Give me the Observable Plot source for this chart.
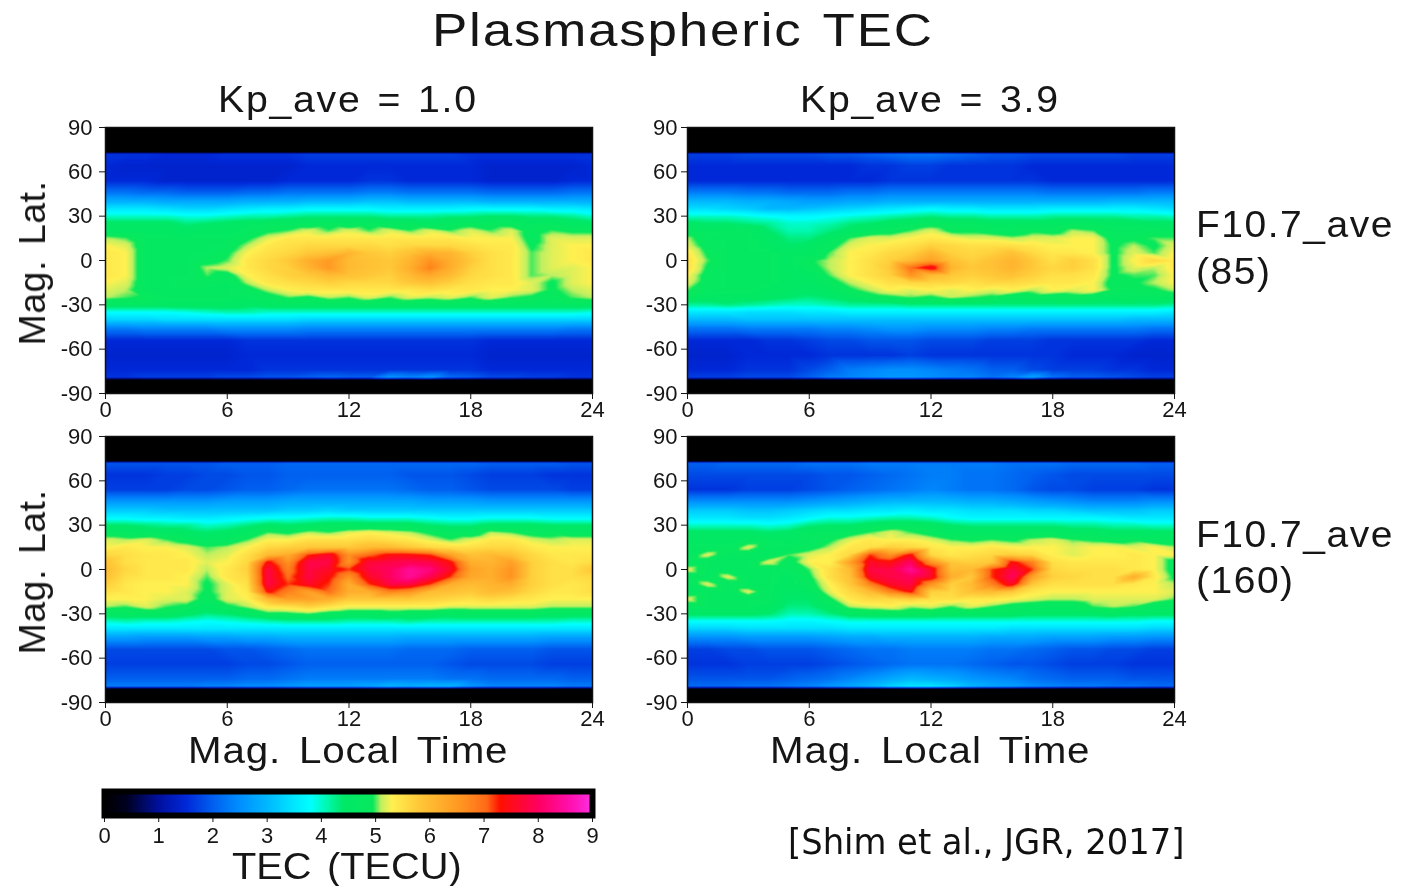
<!DOCTYPE html>
<html><head><meta charset="utf-8">
<script src="https://cdn.jsdelivr.net/npm/d3@7"></script>
<script src="https://cdn.jsdelivr.net/npm/@observablehq/plot@0.6"></script>
<style>
html,body{margin:0;padding:0;background:#fff;overflow:hidden}
#page{position:relative;width:1401px;height:886px;overflow:hidden}
#page svg{position:absolute;background:transparent;max-width:none;filter:blur(.55px)}
.t{position:absolute;white-space:pre;font-family:"Liberation Sans",sans-serif;color:#161616;line-height:1;filter:blur(.4px);transform-origin:0 0}
</style></head><body><div id="page"></div>
<script>
const xTicks=[0,6,12,18,24], yTicks=[-90,-60,-30,0,30,60,90], barTicks=[0,1,2,3,4,5,6,7,8,9];
// latitude rows and local-time columns (TEC values below are in tenths of a TECU)
const latRows=[72,64,54,46,40,35,30,25,20,15,10,5,0,-5,-10,-15,-20,-25,-30,-35,-40,-46,-54,-64,-74,-79];
const mltCols=[0,1,2,3,4,5,6,7,8,9,10,11,12,13,14,15,16,17,18,19,20,21,22,23,24];
const blackCapLat=[90,73.5,-81,-90];

const kp10f85=[
[16,16,16,15,15,15,16,16,16,16,17,17,17,17,17,17,17,17,16,16,16,16,16,16,16],
[15,14,14,14,14,14,14,14,14,14,15,15,15,15,15,15,15,15,15,14,14,14,14,14,15],
[15,15,15,14,14,14,14,14,14,15,15,15,15,16,16,15,15,15,15,14,14,14,14,15,15],
[22,22,21,21,20,20,20,21,21,22,22,22,22,23,23,22,22,22,22,21,21,21,21,22,22],
[29,29,29,28,28,28,28,29,29,29,30,30,30,31,31,30,30,30,30,29,29,29,29,29,29],
[35,35,35,34,33,33,34,35,36,36,37,37,37,37,36,36,36,36,37,37,37,37,36,36,35],
[40,40,40,40,39,39,40,41,41,42,43,43,43,43,42,42,42,43,43,44,44,43,43,42,40],
[45,45,45,45,43,44,45,46,47,47,47,48,47,48,47,47,46,47,48,48,48,47,47,46,45],
[46,46,46,46,45,46,46,47,49,50,52,50,52,50,52,50,52,50,52,50,52,48,50,49,49],
[51,50,47,47,47,47,47,49,52,54,54,54,54,54,54,54,54,54,53,53,53,48,52,52,52],
[53,52,47,47,47,47,48,51,54,55,56,56,56,56,55,56,56,56,55,54,54,49,52,53,53],
[54,53,47,47,47,47,49,53,55,56,58,59,61,58,57,59,62,61,57,55,54,50,52,53,54],
[54,53,47,47,47,48,50,54,56,58,62,65,60,59,58,61,66,62,58,55,54,50,52,53,54],
[54,53,47,47,47,51,52,54,56,57,61,65,60,59,58,62,68,62,57,55,54,50,52,52,53],
[54,53,47,47,47,50,48,53,55,57,58,60,59,58,57,60,63,60,56,55,54,50,51,52,53],
[53,52,47,47,48,48,47,51,54,55,56,57,56,56,56,58,59,57,55,54,54,52,49,52,53],
[52,51,47,47,47,47,47,48,51,53,54,54,54,54,54,54,55,54,54,53,53,52,49,51,52],
[51,50,49,47,47,47,47,47,48,50,49,51,50,52,50,52,51,52,50,52,50,49,48,50,51],
[46,46,46,46,46,46,46,45,46,46,46,46,46,46,46,46,46,46,46,46,46,46,46,46,46],
[38,38,38,38,39,40,41,41,40,40,40,40,40,40,40,40,40,40,40,40,40,40,40,40,39],
[33,33,33,34,34,34,34,34,34,34,33,33,33,33,33,33,33,33,33,33,33,33,33,33,33],
[23,23,24,24,24,24,25,25,25,25,24,24,24,24,24,24,24,24,24,24,24,24,24,23,23],
[15,15,15,15,15,15,15,16,16,16,16,16,16,16,16,16,16,16,16,15,15,15,15,15,15],
[14,14,14,14,14,14,14,15,15,15,15,15,15,15,15,15,15,15,15,14,14,14,14,14,14],
[15,15,15,15,15,15,15,15,16,16,16,16,16,16,16,16,16,16,16,15,15,15,15,15,15],
[16,16,17,17,17,17,18,18,19,19,20,21,20,20,26,24,26,21,20,18,18,17,17,16,16]];

const kp39f85=[
[17,17,17,18,18,18,18,19,19,20,21,22,22,21,20,19,19,18,18,18,18,18,17,17,17],
[15,15,15,15,15,15,15,15,15,16,16,17,17,16,16,16,16,15,15,15,15,15,15,15,15],
[15,15,15,15,15,15,15,15,15,15,16,16,16,16,16,16,16,16,15,15,15,15,15,15,15],
[23,23,23,22,22,21,21,21,22,22,23,23,23,23,23,23,23,23,22,22,22,22,22,23,23],
[30,30,30,29,29,28,27,27,28,28,29,29,29,29,29,29,29,29,29,29,29,30,30,30,30],
[34,34,33,32,30,30,31,32,33,34,35,36,37,36,36,35,35,35,36,36,36,36,36,35,34],
[40,40,40,39,38,37,37,38,39,40,41,42,43,42,42,41,41,41,42,42,42,42,41,41,40],
[45,44,44,43,42,40,40,41,43,44,46,47,48,47,47,46,46,46,46,47,47,46,46,45,45],
[47,46,47,47,44,41,41,43,45,47,48,50,52,49,49,48,47,49,48,51,50,47,47,48,47],
[51,47,47,47,46,43,43,46,50,52,52,53,54,53,52,52,51,52,52,53,53,48,49,50,50],
[52,48,47,47,46,44,45,48,52,53,54,55,57,56,55,55,55,54,53,53,53,49,51,49,52],
[54,49,47,47,47,46,46,50,53,54,56,57,61,57,56,57,59,56,54,54,53,49,52,50,53],
[55,50,47,47,47,46,49,51,53,55,57,60,64,59,57,59,61,58,55,57,55,49,53,56,54],
[55,49,47,47,47,46,48,51,53,55,58,70,76,61,58,59,61,58,56,57,55,49,52,51,54],
[53,48,47,47,47,46,46,50,53,55,57,66,60,58,57,58,59,57,55,55,54,49,50,50,53],
[52,48,47,47,47,46,45,48,51,53,55,56,56,56,55,56,56,55,54,54,53,48,49,51,53],
[50,47,47,47,46,45,45,46,49,51,53,52,53,52,53,52,53,51,53,52,53,49,48,49,51],
[47,46,46,46,45,44,43,44,46,48,49,50,49,51,50,49,47,48,47,48,47,46,47,46,47],
[42,42,43,42,41,40,40,41,42,42,42,43,43,43,43,43,43,43,43,43,43,43,43,43,42],
[35,35,35,34,34,34,35,35,36,36,36,36,36,36,36,36,36,36,36,36,36,36,36,36,35],
[30,30,30,31,31,31,31,31,31,31,31,31,31,31,31,31,31,31,31,31,31,31,30,30,30],
[22,22,22,23,23,23,23,24,24,25,26,26,25,25,25,24,24,23,23,23,23,23,23,22,22],
[15,15,15,15,16,16,17,18,18,19,19,19,18,18,18,17,17,17,16,16,16,16,16,15,15],
[14,14,14,15,15,15,15,16,16,16,16,17,16,16,16,16,16,16,16,15,15,15,14,14,14],
[15,15,15,16,16,16,18,20,23,24,25,25,24,23,22,20,20,18,17,17,17,16,16,15,15],
[17,17,17,18,18,18,20,23,24,25,26,26,25,24,24,22,24,28,22,20,20,19,18,17,17]];

const kp10f160=[
[19,19,19,19,19,19,20,20,20,21,21,21,21,21,21,21,21,21,21,20,20,20,20,19,19],
[16,16,16,17,17,18,18,19,19,20,20,20,20,20,20,19,19,19,18,17,17,17,16,16,16],
[17,17,17,17,18,18,19,20,20,21,22,22,22,22,22,21,20,20,19,18,18,18,18,17,17],
[26,26,26,26,26,26,27,27,27,28,28,28,28,28,28,28,27,27,27,26,26,26,26,26,26],
[32,32,32,31,31,31,31,31,31,32,32,33,32,32,32,32,32,32,32,32,32,32,32,32,32],
[37,37,36,36,35,35,36,37,38,38,39,40,40,39,39,39,38,37,37,38,38,38,37,37,37],
[44,44,43,42,42,40,41,43,45,44,45,46,46,46,46,46,44,43,43,45,45,45,44,44,44],
[47,47,46,46,45,44,45,46,50,49,51,50,52,53,52,51,49,47,47,51,50,48,48,47,47],
[52,51,52,50,48,46,47,50,53,53,55,55,55,56,55,54,52,50,52,54,54,52,51,52,52],
[53,54,53,53,52,50,51,53,56,57,58,58,58,60,60,58,56,55,55,56,56,54,53,53,53],
[56,55,54,54,53,51,52,55,60,62,72,76,66,70,74,74,72,64,59,60,59,56,54,54,54],
[59,55,54,54,54,52,53,56,74,66,78,78,66,77,78,79,78,74,62,61,64,57,55,54,55],
[60,56,54,54,54,51,54,57,78,68,78,76,72,78,80,84,82,76,64,62,66,57,55,55,58],
[59,55,54,54,53,50,54,56,78,70,78,74,66,76,80,84,79,72,63,62,66,57,55,55,56],
[57,54,53,53,53,49,52,55,78,72,76,72,62,72,78,78,72,62,60,61,62,57,55,54,55],
[55,54,53,53,52,49,52,54,74,68,64,70,62,62,68,66,60,59,58,60,59,56,54,54,55],
[53,53,53,52,52,48,52,53,60,64,64,62,58,58,58,58,57,56,55,56,55,54,53,53,53],
[51,50,52,50,49,45,49,51,54,55,57,55,53,53,53,53,53,52,52,52,52,52,51,51,51],
[46,47,47,47,45,43,44,46,49,49,50,48,47,47,48,47,47,46,47,47,47,47,46,46,46],
[40,41,40,40,39,38,39,40,41,42,42,42,41,41,41,42,41,41,41,41,41,41,41,40,40],
[35,35,35,35,35,35,35,35,35,35,35,35,35,35,35,35,35,35,35,35,35,35,35,35,35],
[27,27,26,26,26,27,27,28,28,29,29,29,29,29,29,28,28,28,28,28,28,28,27,27,27],
[18,18,18,18,18,18,19,19,20,21,22,22,22,22,22,21,21,21,20,20,20,20,19,19,19],
[17,17,17,17,17,17,17,18,18,19,20,20,20,20,20,20,20,19,18,18,18,18,17,17,17],
[20,20,20,20,20,20,20,21,21,22,23,23,23,23,23,23,23,22,22,21,21,21,21,20,20],
[23,23,23,23,23,24,24,25,25,26,27,27,27,28,30,29,30,30,26,24,24,24,24,23,23]];

const kp39f160=[
[20,20,21,21,21,21,22,22,22,23,23,23,23,23,23,23,22,22,22,21,21,21,21,20,20],
[18,18,18,18,18,18,18,19,19,20,21,22,23,23,22,22,21,20,19,18,18,18,18,18,18],
[16,16,16,17,17,17,18,19,20,21,22,23,24,23,22,22,21,19,18,18,17,17,17,16,16],
[25,25,25,25,25,25,26,27,28,29,30,30,30,30,29,29,28,27,26,25,24,24,24,25,25],
[32,32,32,31,31,32,33,34,34,35,35,36,35,35,34,34,34,33,33,32,31,31,31,32,32],
[35,35,35,34,34,35,37,39,39,40,41,41,40,38,37,37,37,37,37,37,37,36,35,35,35],
[40,40,40,40,39,40,43,44,44,46,47,47,46,44,43,43,43,43,43,42,42,41,41,40,40],
[45,45,45,45,44,45,47,47,48,50,52,50,48,46,46,46,46,46,46,46,46,45,45,45,45],
[46,46,46,47,47,46,47,49,52,54,53,53,52,50,49,50,49,51,52,50,49,48,49,47,47],
[47,47,47,52,47,47,48,51,54,55,57,56,54,53,53,54,53,53,53,52,53,53,52,53,51],
[47,52,47,47,47,50,52,53,56,72,66,74,56,54,55,56,57,56,53,52,53,53,54,53,53],
[47,47,47,47,52,48,53,53,64,76,74,80,66,58,57,58,74,68,55,54,54,54,54,53,48],
[52,47,47,47,47,47,50,55,60,78,78,84,76,60,60,72,78,72,56,55,55,55,54,53,48],
[47,47,52,47,47,46,49,55,59,76,78,80,76,62,58,72,80,64,57,56,55,55,62,54,49],
[47,52,47,47,47,46,48,53,58,68,76,78,66,57,60,68,76,58,55,55,55,55,54,53,51],
[47,47,47,52,47,45,46,52,56,60,68,74,57,56,59,60,58,54,53,53,53,53,53,53,52],
[52,47,47,47,47,44,44,49,54,56,56,57,55,55,54,54,53,52,51,51,52,52,52,52,50],
[47,47,47,47,46,43,43,46,51,52,53,51,52,50,52,50,48,47,47,47,50,51,50,47,47],
[45,45,45,45,44,41,41,43,46,47,47,47,47,46,46,46,46,45,45,45,45,46,45,45,45],
[38,38,38,38,38,37,37,38,39,39,39,39,39,39,39,39,39,39,39,39,39,39,39,38,38],
[33,33,33,34,34,34,34,34,35,35,35,35,35,35,35,35,34,34,34,34,34,34,34,33,33],
[25,25,25,26,26,26,26,27,28,28,29,29,29,29,29,28,28,28,27,27,27,26,26,25,25],
[17,17,18,18,19,19,19,20,21,22,22,23,23,23,23,22,22,21,20,19,19,18,18,17,17],
[16,16,16,17,17,17,17,18,19,20,21,22,22,22,21,20,19,19,18,17,17,17,16,16,16],
[19,19,19,19,19,20,21,22,24,26,28,30,29,28,26,25,24,22,21,20,20,20,19,19,19],
[21,21,21,22,22,23,24,26,28,30,33,35,35,33,30,28,27,25,24,23,23,22,22,21,21]];

const colorDomain=[0,.4,1,1.5,2,2.5,3,3.5,3.8,4.1,4.4,4.95,5.1,5.3,5.8,6.6,7.05,7.3,8,8.6,9];
const colorRange=["#000","#000020","#0010a0","#0028d8","#0060f0","#0090ff","#00b8ff","#00e8ff","#00ffff","#00f8b0","#00e868","#08e85c","#c0f060","#fff050","#ffc838","#ff9420","#ff6a18","#ff1000","#ff0060","#ff10b0","#ff30e0"];
const panelTitles=["Kp_ave = 1.0","Kp_ave = 3.9"];
const rowNotes=[["F10.7_ave",225],["(85)",272],["F10.7_ave",535],["(160)",581]];

const page=document.getElementById("page");
const colorScale={type:"linear",domain:colorDomain,range:colorRange,clamp:true,interpolate:"rgb"};
const fontStyle={fontFamily:"'Liberation Sans',sans-serif",fontSize:"22px",color:"#161616",background:"transparent",overflow:"visible"};

function points(table){
  const out=[];
  latRows.forEach((lat,i)=>mltCols.forEach((mlt,j)=>out.push({lat,mlt,tec:table[i][j]/10})));
  blackCapLat.forEach(lat=>mltCols.forEach(mlt=>out.push({lat,mlt,tec:0})));
  return out;
}
function panel(table,px,py,yTickLen){
  const mL=60,mT=8,mB=34,mR=24,W=487,H=266;
  const svg=Plot.plot({
    width:W+mL+mR,height:H+mT+mB,marginLeft:mL,marginTop:mT,marginBottom:mB,marginRight:mR,
    style:fontStyle,color:colorScale,
    x:{domain:[0,24],ticks:xTicks,label:null,tickSize:6,tickPadding:2},
    y:{domain:[-90,90],ticks:yTicks,label:null,tickSize:6,tickPadding:yTickLen,tickFormat:d=>String(d)},
    marks:[
      Plot.raster(points(table),{x:"mlt",y:"lat",fill:"tec",interpolate:"barycentric"}),
      Plot.frame({stroke:"#111",strokeWidth:1.5})
    ]});
  svg.style.left=(px-mL)+"px"; svg.style.top=(py-mT)+"px";
  page.appendChild(svg);
}
panel(kp10f85,105,127,7);
panel(kp39f85,687,127,4);
panel(kp10f160,105,436,7);
panel(kp39f160,687,436,4);

// colour bar
const barValues=d3.range(0,9.001,0.01);
const bar=Plot.plot({
  width:540,height:74,marginLeft:24,marginRight:28,marginTop:4,marginBottom:46,
  style:{...fontStyle,fontWeight:"400"},color:colorScale,
  x:{domain:[0,9],ticks:barTicks,label:null,tickSize:7,tickPadding:5},
  y:{axis:null,domain:[0,1]},
  marks:[
    Plot.raster(barValues,{width:barValues.length,height:1,x1:0,x2:9,y1:0,y2:1,fill:d=>d}),
    Plot.frame({stroke:"#000",strokeWidth:6})
  ]});
bar.style.left="80px"; bar.style.top="787px";
bar.querySelectorAll("text").forEach(t=>t.style.webkitTextStroke=".6px #161616");
page.appendChild(bar);

function text(s,x,y,size,sx,opts={}){
  const d=document.createElement("div");
  d.className="t"; d.textContent=s;
  d.style.left=x+"px"; d.style.top=y+"px"; d.style.fontSize=size+"px";
  d.style.transform=`scaleX(${sx})`;
  Object.assign(d.style,opts);
  page.appendChild(d);
}
text("Plasmaspheric TEC",432,6,47,1.126,{letterSpacing:"1.6px",wordSpacing:"4px"});
text(panelTitles[0],218,82,36,1.09,{letterSpacing:"1.6px",wordSpacing:"3px"});
text(panelTitles[1],800,82,36,1.09,{letterSpacing:"1.6px",wordSpacing:"3px"});
rowNotes.forEach(([s,y])=>text(s,1196,y-18,36,1.083,{letterSpacing:"1.4px"}));
[263,572].forEach(c=>text("Mag. Lat.",33,c,36,1,{transformOrigin:"50% 50%",transform:"translate(-50%,-50%) rotate(-90deg) scaleX(1.04)",letterSpacing:".5px",wordSpacing:"4px"}));
[188,770].forEach(x=>text("Mag. Local Time",x,733,36,1.12,{letterSpacing:".8px",wordSpacing:"5px"}));
text("TEC (TECU)",232,849,36,1.105,{wordSpacing:"4px"});
text("[Shim et al., JGR, 2017]",788,825,35,1.073,{fontFamily:"'DejaVu Sans Condensed','DejaVu Sans',sans-serif",color:"#111",filter:"none"});
</script></body></html>
